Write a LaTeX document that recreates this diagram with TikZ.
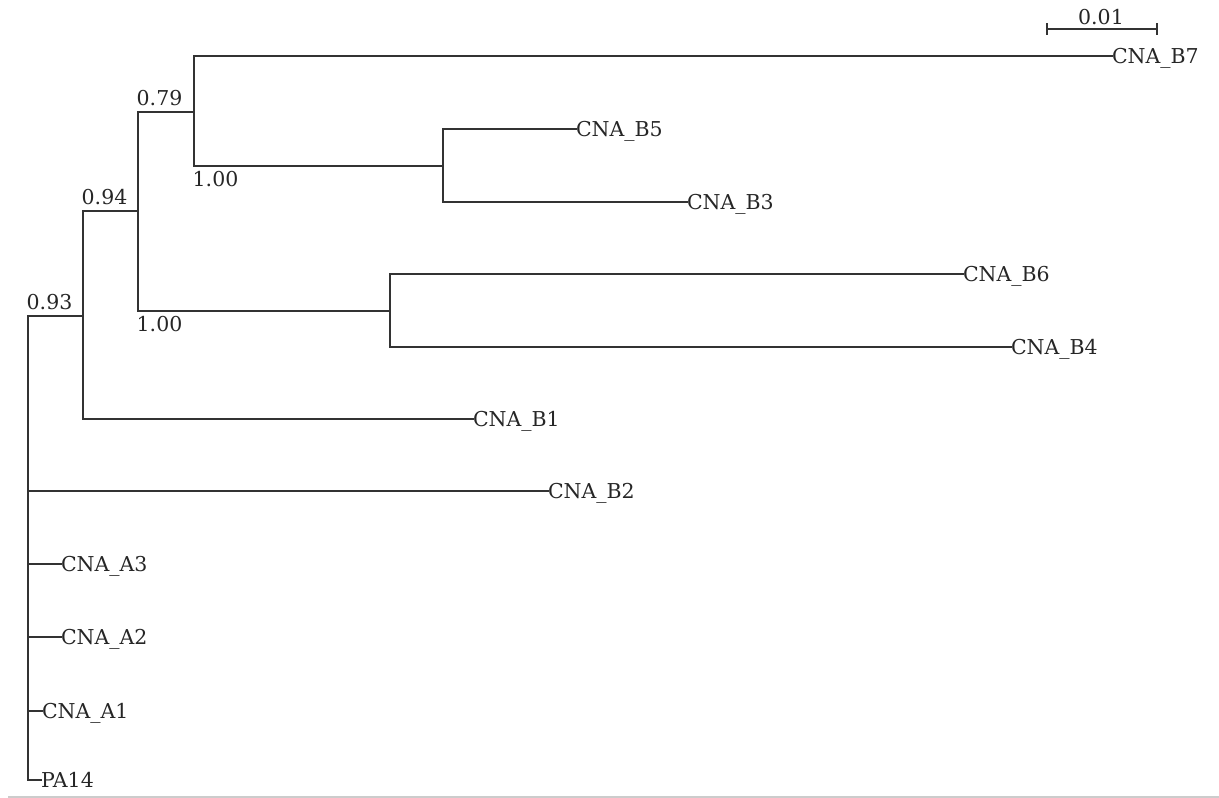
\documentclass[tikz,border=0pt]{standalone}
\usepackage{fontspec}
\setmainfont{DejaVu Serif}
\begin{document}
\begin{tikzpicture}[x=1pt,y=-1pt,
  br/.style={draw=black!80,line width=2pt,line cap=rect},
  leaf/.style={anchor=west,inner sep=0pt,outer sep=0pt,text=black!85,
    font=\fontsize{20.5}{24}\selectfont,text height=14.9pt,text depth=0pt},
  supa/.style={anchor=base west,inner sep=0pt,text=black!85,
    font=\fontsize{20.5}{24}\selectfont,xshift=-1.5pt,yshift=6.4pt},
  supb/.style={anchor=base west,inner sep=0pt,text=black!85,
    font=\fontsize{20.5}{24}\selectfont,xshift=-1.5pt,yshift=-20.7pt}]
\useasboundingbox (0,0) rectangle (1219,798);
% internal nodes
\coordinate (root) at (28,548);
\coordinate (n093) at (83,316);
\coordinate (n094) at (138,211);
\coordinate (n079) at (194,112);
\coordinate (nA) at (443,166);
\coordinate (nB) at (390,311);
% leaves
\node[leaf] (B7) at (1112,56) {CNA\_B7};
\node[leaf] (B5) at (576,129) {CNA\_B5};
\node[leaf] (B3) at (687,202) {CNA\_B3};
\node[leaf] (B6) at (963,274) {CNA\_B6};
\node[leaf] (B4) at (1011,347) {CNA\_B4};
\node[leaf] (B1) at (473,419) {CNA\_B1};
\node[leaf] (B2) at (548,491) {CNA\_B2};
\node[leaf] (A3) at (61,564) {CNA\_A3};
\node[leaf] (A2) at (61,637) {CNA\_A2};
\node[leaf] (A1) at (42,711) {CNA\_A1};
\node[leaf] (PA) at (41,780) {PA14};
% branches
\draw[br] (root) |- (n093);
\draw[br] (root) |- (B2.west);
\draw[br] (root) |- (A3.west);
\draw[br] (root) |- (A2.west);
\draw[br] (root) |- (A1.west);
\draw[br] (root) |- (PA.west);
\draw[br] (n093) |- (n094);
\draw[br] (n093) |- (B1.west);
\draw[br] (n094) |- (n079);
\draw[br] (n094) |- (nB);
\draw[br] (n079) |- (B7.west);
\draw[br] (n079) |- (nA);
\draw[br] (nA) |- (B5.west);
\draw[br] (nA) |- (B3.west);
\draw[br] (nB) |- (B6.west);
\draw[br] (nB) |- (B4.west);
% support values
\node[supa] (s093) at (root |- n093) {0.93};
\node[supa] (s094) at (n093 |- n094) {0.94};
\node[supa] (s079) at (n094 |- n079) {0.79};
\node[supb] (sA) at (n079 |- nA) {1.00};
\node[supb] (sB) at (n094 |- nB) {1.00};
% scale bar
\coordinate (sbL) at (1047,29);
\coordinate (sbR) at (1157,29);
\draw[br] (sbL) -- (sbR);
\draw[br] ([yshift=5pt]sbL) -- ([yshift=-5pt]sbL);
\draw[br] ([yshift=5pt]sbR) -- ([yshift=-5pt]sbR);
\node[anchor=base,inner sep=0pt,text=black!85,font=\fontsize{20.5}{24}\selectfont] (sbl) at (1101,24.3) {0.01};
% bottom rule
\coordinate (rl) at (8,797);
\coordinate (rr) at (1219,797);
\draw[gray!40,line width=2pt] (rl) -- (rr);
\end{tikzpicture}
\end{document}
